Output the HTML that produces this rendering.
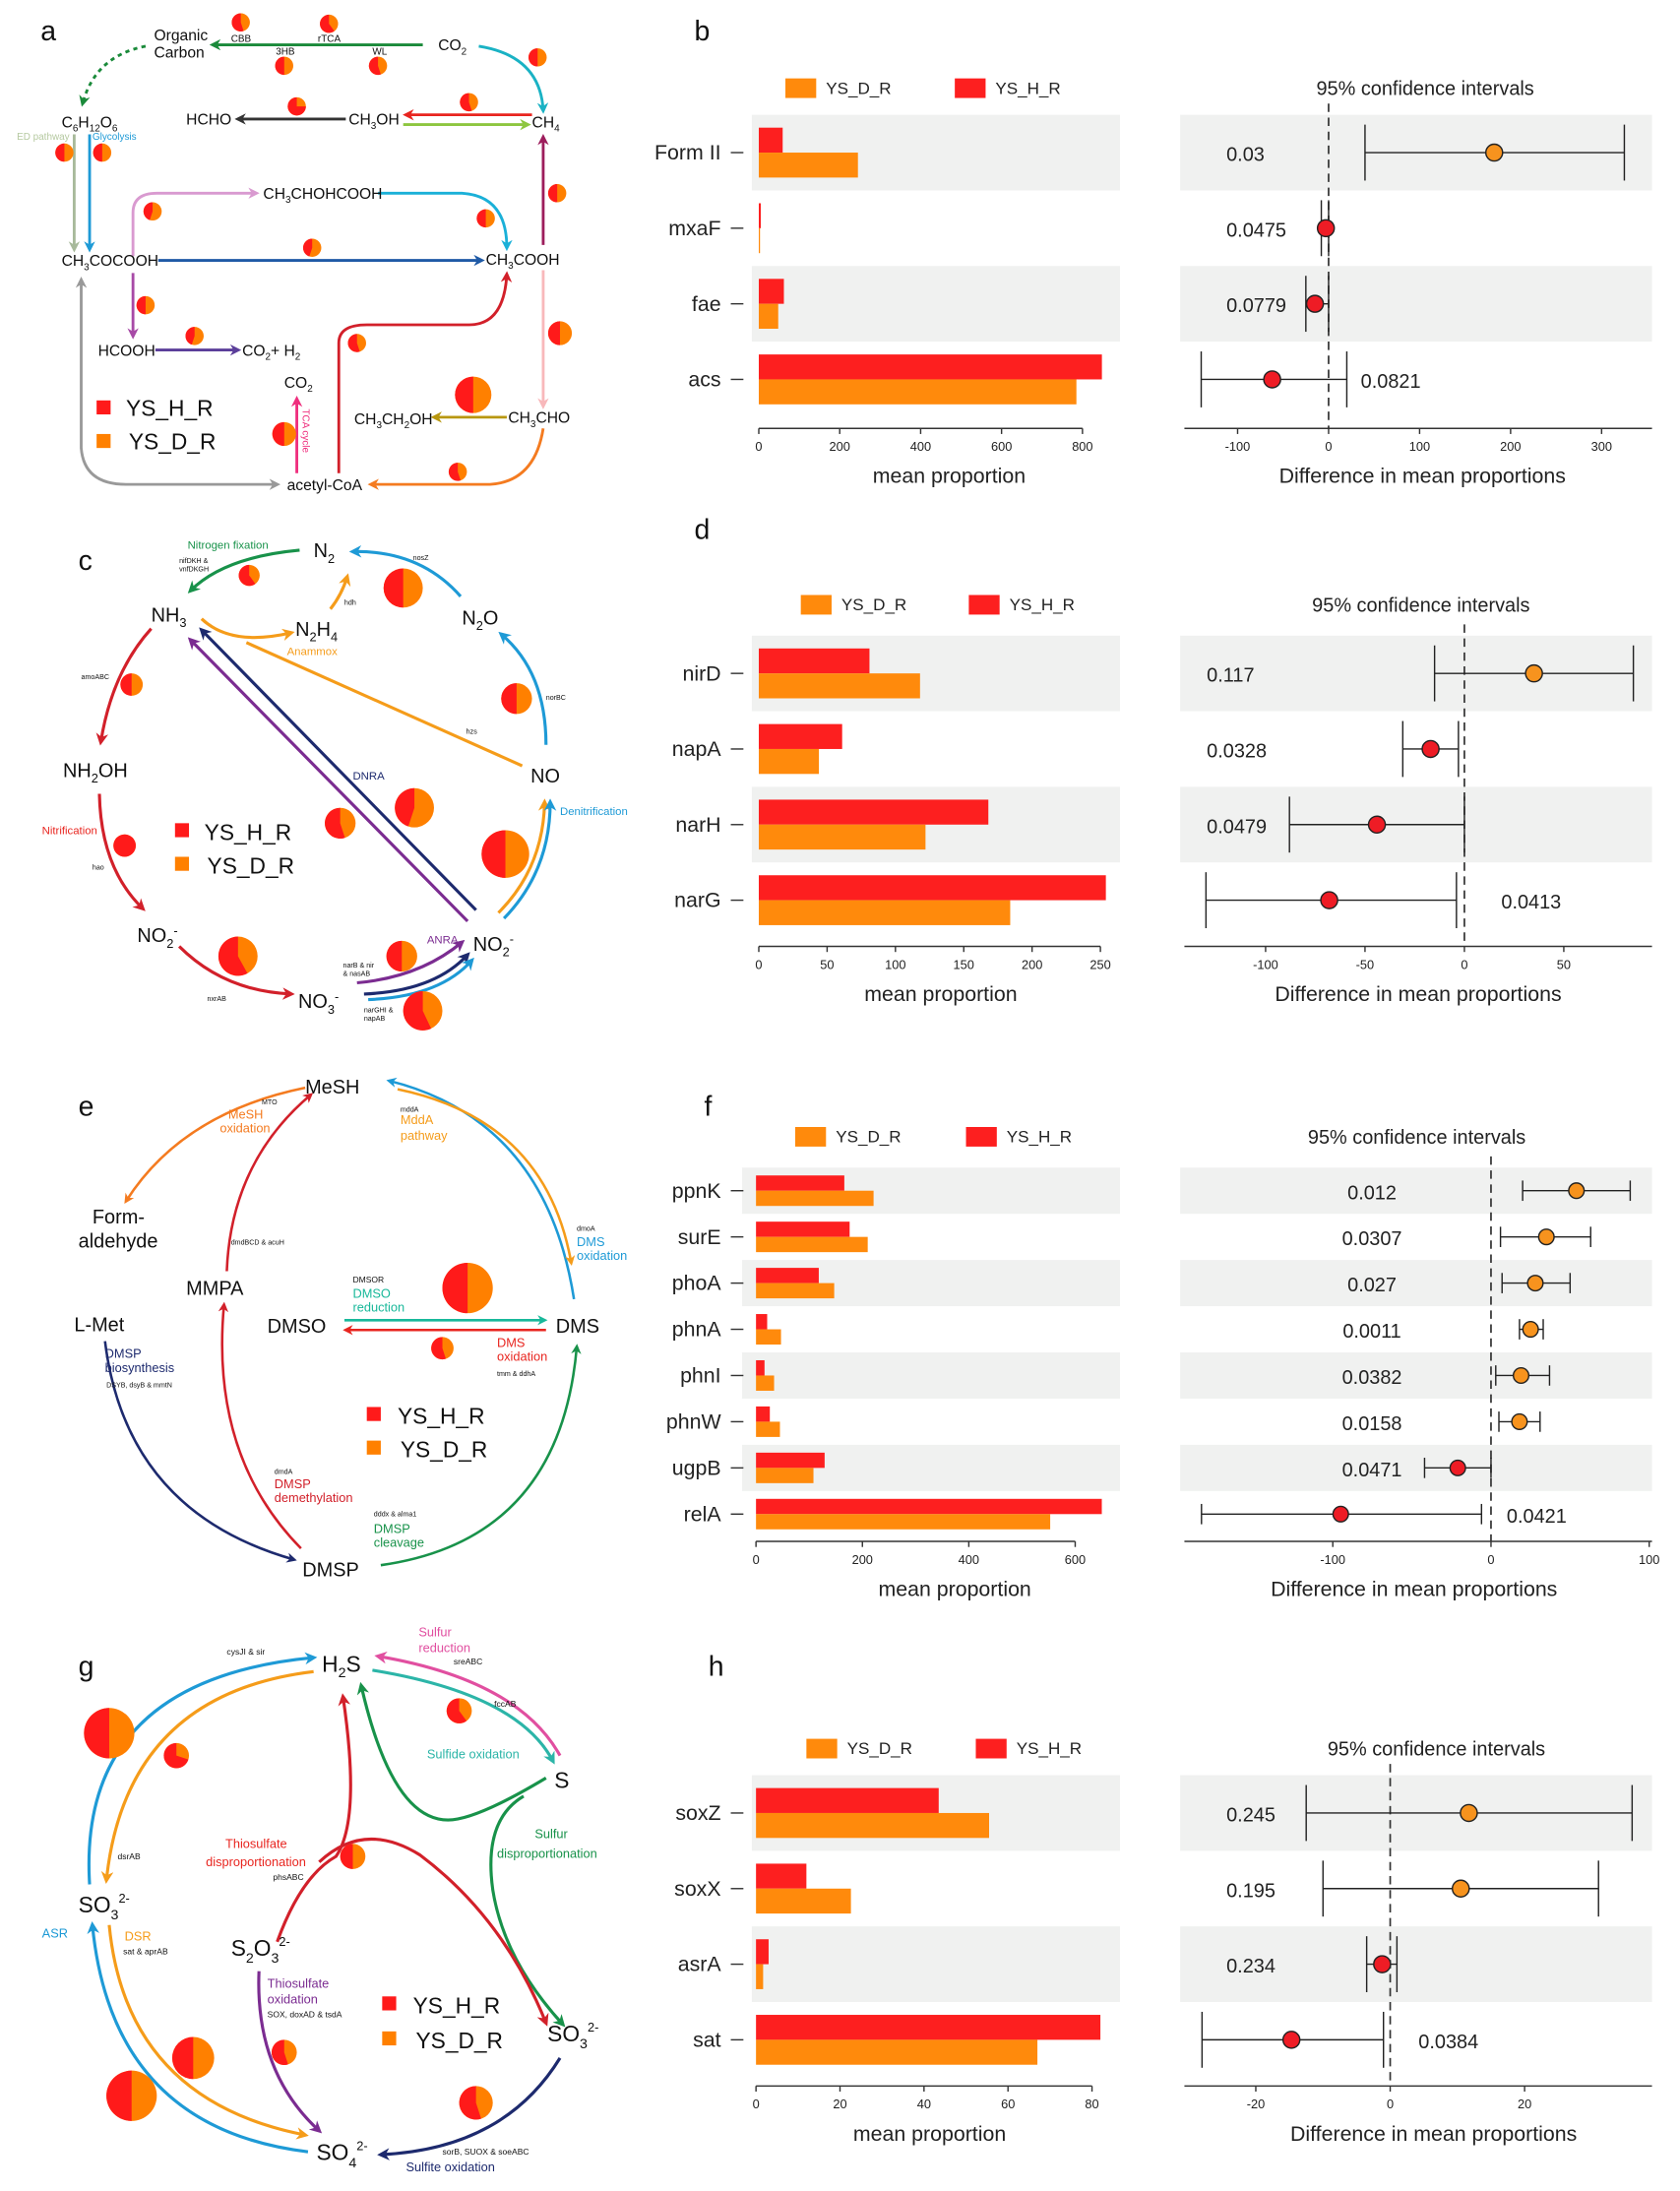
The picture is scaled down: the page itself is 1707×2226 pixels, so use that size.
<!DOCTYPE html>
<html><head><meta charset="utf-8"><style>
html,body{margin:0;padding:0;background:#fff;}
svg{display:block;font-family:"Liberation Sans",sans-serif;}
</style></head><body>
<svg id="fig" width="1707" height="2226" viewBox="0 0 1200 1565" preserveAspectRatio="none" xmlns="http://www.w3.org/2000/svg">
<defs id="defs"></defs>
<rect x="0" y="0" width="1200" height="1565" fill="#fff"/>

<!-- Panel labels -->
<g font-size="20" fill="#111">
<text x="29" y="29">a</text>
<text x="496" y="29">b</text>
<text x="56" y="407">c</text>
<text x="496" y="385">d</text>
<text x="56" y="797">e</text>
<text x="503" y="797">f</text>
<text x="56" y="1197">g</text>
<text x="506" y="1197">h</text>
</g>

<!-- PANEL A -->
<g id="panelA" fill="none" stroke-width="2">
<path d="M302,32 L152,32" stroke="#1a8a3a" marker-end="url(#m-1a8a3a)"/>
<path d="M104,33 Q68,40 59,74" stroke="#1a8a3a" stroke-dasharray="3 3" marker-end="url(#m-1a8a3a)"/>
<path d="M342,33 Q386,40 388,79" stroke="#1ab2c4" marker-end="url(#m-1ab2c4)"/>
<path d="M247,85 L170,85" stroke="#333333" marker-end="url(#m-333333)"/>
<path d="M380,82 L290,82" stroke="#e8251f" marker-end="url(#m-e8251f)"/>
<path d="M288,89 L377,89" stroke="#8dc63f" marker-end="url(#m-8dc63f)"/>
<path d="M53,96 L53,178" stroke="#a7b99a" marker-end="url(#m-a7b99a)"/>
<path d="M64,96 L64,178" stroke="#1e9ad6" marker-end="url(#m-1e9ad6)"/>
<path d="M113,186 L344,186" stroke="#1f5aa6" marker-end="url(#m-1f5aa6)"/>
<path d="M95,183 L95,152 Q95,138 112,138 L183,138" stroke="#d99ad0" marker-end="url(#m-d99ad0)"/>
<path d="M270,138 L330,138 Q362,140 362,177" stroke="#1ab0d8" marker-end="url(#m-1ab0d8)"/>
<path d="M388,175 L388,98" stroke="#9d1d5c" marker-end="url(#m-9d1d5c)"/>
<path d="M95,195 L95,240" stroke="#a74aa6" marker-end="url(#m-a74aa6)"/>
<path d="M111,250 L170,250" stroke="#5b3e9a" marker-end="url(#m-5b3e9a)"/>
<path d="M58,200 L58,320 Q60,346 90,346 L198,346" stroke="#999999" marker-start="url(#m-999999)" marker-end="url(#m-999999)"/>
<path d="M212,338 L212,285" stroke="#ef2f7e" marker-end="url(#m-ef2f7e)"/>
<path d="M242,338 L242,245 Q242,232 262,232 L335,232 Q360,232 362,196" stroke="#d2202a" marker-end="url(#m-d2202a)"/>
<path d="M388,193 L388,290" stroke="#f8b8bb" marker-end="url(#m-f8b8bb)"/>
<path d="M362,298 L310,298" stroke="#b8970f" marker-end="url(#m-b8970f)"/>
<path d="M388,306 Q382,344 350,346 L265,346" stroke="#f47b20" marker-end="url(#m-f47b20)"/>
</g>
<g font-size="11" fill="#111">
<text x="110" y="29">Organic</text>
<text x="110" y="41">Carbon</text>
<text x="313" y="36">CO<tspan font-size="7" dy="3">2</tspan></text>
<text x="133" y="89">HCHO</text>
<text x="249" y="89">CH<tspan font-size="7" dy="3">3</tspan><tspan dy="-3">OH</tspan></text>
<text x="380" y="91">CH<tspan font-size="7" dy="3">4</tspan></text>
<text x="44" y="91">C<tspan font-size="7" dy="3">6</tspan><tspan dy="-3">H</tspan><tspan font-size="7" dy="3">12</tspan><tspan dy="-3">O</tspan><tspan font-size="7" dy="3">6</tspan></text>
<text x="44" y="190">CH<tspan font-size="7" dy="3">3</tspan><tspan dy="-3">COCOOH</tspan></text>
<text x="188" y="142">CH<tspan font-size="7" dy="3">3</tspan><tspan dy="-3">CHOHCOOH</tspan></text>
<text x="347" y="189">CH<tspan font-size="7" dy="3">3</tspan><tspan dy="-3">COOH</tspan></text>
<text x="70" y="254">HCOOH</text>
<text x="173" y="254">CO<tspan font-size="7" dy="3">2</tspan><tspan dy="-3">+ H</tspan><tspan font-size="7" dy="3">2</tspan></text>
<text x="203" y="277">CO<tspan font-size="7" dy="3">2</tspan></text>
<text x="253" y="303">CH<tspan font-size="7" dy="3">3</tspan><tspan dy="-3">CH</tspan><tspan font-size="7" dy="3">2</tspan><tspan dy="-3">OH</tspan></text>
<text x="363" y="302">CH<tspan font-size="7" dy="3">3</tspan><tspan dy="-3">CHO</tspan></text>
<text x="205" y="350">acetyl-CoA</text>
<g font-size="7">
<text x="165" y="30">CBB</text>
<text x="227" y="30">rTCA</text>
<text x="197" y="39">3HB</text>
<text x="266" y="39">WL</text>
<text x="12" y="100" fill="#b5c9a0">ED pathway</text>
<text x="66" y="100" fill="#1e9ad6">Glycolysis</text>
<text x="216" y="292" fill="#ef2f7e" transform="rotate(90 216 292)">TCA cycle</text>
</g>
</g>
<g>
<rect x="69" y="286" width="10" height="10" fill="#ff1a1a"/>
<text x="90" y="297" font-size="16" fill="#111">YS_H_R</text>
<rect x="69" y="310" width="10" height="10" fill="#ff8000"/>
<text x="92" y="321" font-size="16" fill="#111">YS_D_R</text>
</g>

<!-- PANEL C -->
<g fill="none" stroke-width="2.2">
<path d="M214,393 Q160,398 136,422" stroke="#18924a" marker-end="url(#m-18924a)"/>
<path d="M329,426 Q300,393 252,394" stroke="#1e9ad6" marker-end="url(#m-1e9ad6)"/>
<path d="M236,435 Q244,425 248,412" stroke="#f59c1a" marker-end="url(#m-f59c1a)"/>
<path d="M144,442 Q165,462 208,452" stroke="#f59c1a" marker-end="url(#m-f59c1a)"/>
<path d="M176,459 L373,547" stroke="#f59c1a"/>
<path d="M390,532 Q390,480 358,453" stroke="#1e9ad6" marker-end="url(#m-1e9ad6)"/>
<path d="M340,650 L144,450" stroke="#1d2a6e" marker-end="url(#m-1d2a6e)"/>
<path d="M334,658 L136,457" stroke="#7b2c91" marker-end="url(#m-7b2c91)"/>
<path d="M108,449 Q80,480 72,530" stroke="#d2202a" marker-end="url(#m-d2202a)"/>
<path d="M71,567 Q72,620 102,649" stroke="#d2202a" marker-end="url(#m-d2202a)"/>
<path d="M128,676 Q160,708 208,710" stroke="#d2202a" marker-end="url(#m-d2202a)"/>
<path d="M255,702 Q300,698 330,673" stroke="#7b2c91" marker-end="url(#m-7b2c91)"/>
<path d="M260,710 Q310,708 334,682" stroke="#1d2a6e" marker-end="url(#m-1d2a6e)"/>
<path d="M263,714 Q314,712 337,686" stroke="#1e9ad6" marker-end="url(#m-1e9ad6)"/>
<path d="M356,652 Q388,620 389,573" stroke="#f59c1a" marker-end="url(#m-f59c1a)"/>
<path d="M360,656 Q393,622 393,573" stroke="#1e9ad6" marker-end="url(#m-1e9ad6)"/>
</g>
<g font-size="14" fill="#111">
<text x="224" y="398">N<tspan font-size="9" dy="4">2</tspan></text>
<text x="108" y="444">NH<tspan font-size="9" dy="4">3</tspan></text>
<text x="211" y="454">N<tspan font-size="9" dy="4">2</tspan><tspan dy="-4">H</tspan><tspan font-size="9" dy="4">4</tspan></text>
<text x="330" y="446">N<tspan font-size="9" dy="4">2</tspan><tspan dy="-4">O</tspan></text>
<text x="379" y="559">NO</text>
<text x="45" y="555">NH<tspan font-size="9" dy="4">2</tspan><tspan dy="-4">OH</tspan></text>
<text x="98" y="673">NO<tspan font-size="9" dy="4">2</tspan><tspan font-size="9" dy="-9">-</tspan></text>
<text x="213" y="720">NO<tspan font-size="9" dy="4">3</tspan><tspan font-size="9" dy="-9">-</tspan></text>
<text x="338" y="679">NO<tspan font-size="9" dy="4">2</tspan><tspan font-size="9" dy="-9">-</tspan></text>
<g font-size="8">
<text x="134" y="392" fill="#18924a">Nitrogen fixation</text>
<text x="128" y="402" font-size="5">nifDKH &amp;</text><text x="128" y="408" font-size="5">vnfDKGH</text>
<text x="295" y="400" font-size="5">nosZ</text>
<text x="246" y="432" font-size="5">hdh</text>
<text x="205" y="468" fill="#f59c1a">Anammox</text>
<text x="333" y="524" font-size="5">hzs</text>
<text x="390" y="500" font-size="5">norBC</text>
<text x="252" y="557" fill="#1d2a6e">DNRA</text>
<text x="305" y="674" fill="#7b2c91">ANRA</text>
<text x="58" y="485" font-size="5">amoABC</text>
<text x="30" y="596" fill="#e8251f">Nitrification</text>
<text x="66" y="621" font-size="5">hao</text>
<text x="148" y="715" font-size="5">nxrAB</text>
<text x="245" y="691" font-size="5">narB &amp; nir</text><text x="245" y="697" font-size="5">&amp; nasAB</text>
<text x="260" y="723" font-size="5">narGHI &amp;</text><text x="260" y="729" font-size="5">napAB</text>
<text x="400" y="582" fill="#1e9ad6">Denitrification</text>
</g>
</g>
<g>
<rect x="125" y="588" width="10" height="10" fill="#ff1a1a"/>
<text x="146" y="600" font-size="16" fill="#111">YS_H_R</text>
<rect x="125" y="612" width="10" height="10" fill="#ff8000"/>
<text x="148" y="624" font-size="16" fill="#111">YS_D_R</text>
</g>

<!-- PANEL E -->
<g fill="none" stroke-width="1.8">
<path d="M218,777 Q130,795 90,858" stroke="#f47b20" marker-end="url(#m-f47b20)"/>
<path d="M162,908 Q165,830 222,782" stroke="#d2202a" marker-end="url(#m-d2202a)"/>
<path d="M410,928 Q390,800 278,772" stroke="#1e9ad6" marker-end="url(#m-1e9ad6)"/>
<path d="M284,778 Q390,800 408,902" stroke="#f59c1a" marker-end="url(#m-f59c1a)"/>
<path d="M246,943 L389,943" stroke="#18b89a" marker-end="url(#m-18b89a)"/>
<path d="M390,950 L247,950" stroke="#e8251f" marker-end="url(#m-e8251f)"/>
<path d="M75,958 Q90,1080 210,1114" stroke="#1d2a6e" marker-end="url(#m-1d2a6e)"/>
<path d="M215,1106 Q150,1040 160,932" stroke="#d2202a" marker-end="url(#m-d2202a)"/>
<path d="M272,1118 Q400,1100 412,962" stroke="#18924a" marker-end="url(#m-18924a)"/>
</g>
<g font-size="14" fill="#111">
<text x="218" y="781">MeSH</text>
<text x="66" y="874">Form-</text>
<text x="56" y="891">aldehyde</text>
<text x="133" y="925">MMPA</text>
<text x="53" y="951">L-Met</text>
<text x="191" y="952">DMSO</text>
<text x="397" y="952">DMS</text>
<text x="216" y="1126">DMSP</text>
<g font-size="9">
<text x="187" y="789" font-size="5">MTO</text>
<text x="163" y="799" fill="#f47b20">MeSH</text><text x="157" y="809" fill="#f47b20">oxidation</text>
<text x="286" y="794" font-size="5">mddA</text>
<text x="286" y="803" fill="#f59c1a">MddA</text><text x="286" y="814" fill="#f59c1a">pathway</text>
<text x="165" y="889" font-size="5">dmdBCD &amp; acuH</text>
<text x="412" y="879" font-size="5">dmoA</text>
<text x="412" y="890" fill="#1e9ad6">DMS</text><text x="412" y="900" fill="#1e9ad6">oxidation</text>
<text x="252" y="916" font-size="6">DMSOR</text>
<text x="252" y="927" fill="#18b89a">DMSO</text><text x="252" y="937" fill="#18b89a">reduction</text>
<text x="355" y="962" fill="#e8251f">DMS</text><text x="355" y="972" fill="#e8251f">oxidation</text>
<text x="355" y="983" font-size="5">tmm &amp; ddhA</text>
<text x="75" y="970" fill="#1d2a6e">DMSP</text><text x="75" y="980" fill="#1d2a6e">biosynthesis</text>
<text x="76" y="991" font-size="5">DSYB, dsyB &amp; mmtN</text>
<text x="196" y="1053" font-size="5">dmdA</text>
<text x="196" y="1063" fill="#d2202a">DMSP</text><text x="196" y="1073" fill="#d2202a">demethylation</text>
<text x="267" y="1083" font-size="5">dddx &amp; alma1</text>
<text x="267" y="1095" fill="#18924a">DMSP</text><text x="267" y="1105" fill="#18924a">cleavage</text>
</g>
</g>
<g>
<rect x="262" y="1005" width="10" height="10" fill="#ff1a1a"/>
<text x="284" y="1017" font-size="16" fill="#111">YS_H_R</text>
<rect x="262" y="1029" width="10" height="10" fill="#ff8000"/>
<text x="286" y="1041" font-size="16" fill="#111">YS_D_R</text>
</g>

<!-- PANEL G -->
<g fill="none" stroke-width="2.2">
<path d="M64,1346 Q55,1200 224,1184" stroke="#1e9ad6" marker-end="url(#m-1e9ad6)"/>
<path d="M224,1194 Q90,1210 76,1343" stroke="#f59c1a" marker-end="url(#m-f59c1a)"/>
<path d="M400,1254 Q370,1200 270,1183" stroke="#e14fa0" marker-end="url(#m-e14fa0)"/>
<path d="M266,1193 Q370,1210 395,1258" stroke="#2cb5a8" marker-end="url(#m-2cb5a8)"/>
<path d="M390,1270 Q340,1300 320,1300 Q280,1300 258,1204" stroke="#18924a" marker-end="url(#m-18924a)"/>
<path d="M374,1283 Q345,1300 352,1350 Q360,1400 402,1446" stroke="#18924a" marker-end="url(#m-18924a)"/>
<path d="M198,1387 Q215,1340 240,1326 Q258,1300 245,1212" stroke="#d2202a" marker-end="url(#m-d2202a)"/>
<path d="M228,1330 Q260,1300 300,1325 Q360,1370 390,1445" stroke="#d2202a" marker-end="url(#m-d2202a)"/>
<path d="M185,1408 Q182,1480 228,1522" stroke="#7b2c91" marker-end="url(#m-7b2c91)"/>
<path d="M220,1537 Q80,1520 66,1375" stroke="#1e9ad6" marker-end="url(#m-1e9ad6)"/>
<path d="M78,1375 Q90,1500 218,1525" stroke="#f59c1a" marker-end="url(#m-f59c1a)"/>
<path d="M400,1470 Q360,1535 272,1539" stroke="#1d2a6e" marker-end="url(#m-1d2a6e)"/>
</g>
<g font-size="16" fill="#111">
<text x="230" y="1194">H<tspan font-size="10" dy="4">2</tspan><tspan dy="-4">S</tspan></text>
<text x="396" y="1277">S</text>
<text x="56" y="1366">SO<tspan font-size="10" dy="5">3</tspan><tspan font-size="9" dy="-12">2-</tspan></text>
<text x="165" y="1397">S<tspan font-size="10" dy="5">2</tspan><tspan dy="-5">O</tspan><tspan font-size="10" dy="5">3</tspan><tspan font-size="9" dy="-12">2-</tspan></text>
<text x="391" y="1458">SO<tspan font-size="10" dy="5">3</tspan><tspan font-size="9" dy="-12">2-</tspan></text>
<text x="226" y="1543">SO<tspan font-size="10" dy="5">4</tspan><tspan font-size="9" dy="-12">2-</tspan></text>
<g font-size="9">
<text x="162" y="1182" font-size="6">cysJI &amp; sir</text>
<text x="299" y="1169" fill="#e14fa0">Sulfur</text><text x="299" y="1180" fill="#e14fa0">reduction</text>
<text x="324" y="1189" font-size="6">sreABC</text>
<text x="353" y="1219" font-size="6">fccAB</text>
<text x="305" y="1256" fill="#2cb5a8">Sulfide oxidation</text>
<text x="382" y="1313" fill="#18924a">Sulfur</text><text x="355" y="1327" fill="#18924a">disproportionation</text>
<text x="161" y="1320" fill="#e8251f">Thiosulfate</text><text x="147" y="1333" fill="#e8251f">disproportionation</text>
<text x="195" y="1343" font-size="6">phsABC</text>
<text x="84" y="1328" font-size="6">dsrAB</text>
<text x="30" y="1384" fill="#1e9ad6">ASR</text>
<text x="89" y="1386" fill="#f59c1a">DSR</text>
<text x="88" y="1396" font-size="6">sat &amp; aprAB</text>
<text x="191" y="1420" fill="#7b2c91">Thiosulfate</text><text x="191" y="1431" fill="#7b2c91">oxidation</text>
<text x="191" y="1441" font-size="6">SOX, doxAD &amp; tsdA</text>
<text x="316" y="1539" font-size="6">sorB, SUOX &amp; soeABC</text>
<text x="290" y="1551" fill="#1d2a6e">Sulfite oxidation</text>
</g>
</g>
<g>
<rect x="273" y="1426" width="10" height="10" fill="#ff1a1a"/>
<text x="295" y="1438" font-size="16" fill="#111">YS_H_R</text>
<rect x="273" y="1451" width="10" height="10" fill="#ff8000"/>
<text x="297" y="1463" font-size="16" fill="#111">YS_D_R</text>
</g>

<g id="pies"></g>
<g id="charts"></g>
</svg>
<script>
// ---------- Chart data (panel b) ----------
const bCats = ['Form II', 'mxaF', 'fae', 'acs'];
const bRed = [59, 5, 62, 848];
const bOrange = [245, 3, 48, 785];
const bDiff = [182, -3, -15, -62];
const bLo = [40, -8, -25, -140];
const bHi = [325, 0, 0, 20];
const bP = ['0.03', '0.0475', '0.0779', '0.0821'];
const bBarTicks = [0, 200, 400, 600, 800];
const bCiTicks = [-100, 0, 100, 200, 300];
// ---------- panel d ----------
const dCats = ['nirD', 'napA', 'narH', 'narG'];
const dRed = [81, 61, 168, 254];
const dOrange = [118, 44, 122, 184];
const dDiff = [35, -17, -44, -68];
const dLo = [-15, -31, -88, -130];
const dHi = [85, -3, 0, -4];
const dP = ['0.117', '0.0328', '0.0479', '0.0413'];
const dBarTicks = [0, 50, 100, 150, 200, 250];
const dCiTicks = [-100, -50, 0, 50];
// ---------- panel f ----------
const fCats = ['ppnK', 'surE', 'phoA', 'phnA', 'phnI', 'phnW', 'ugpB', 'relA'];
const fRed = [166, 176, 118, 21, 16, 26, 129, 650];
const fOrange = [221, 210, 147, 47, 34, 45, 108, 553];
const fDiff = [54, 35, 28, 25, 19, 18, -21, -95];
const fLo = [20, 6, 7, 18, 3, 5, -42, -183];
const fHi = [88, 63, 50, 33, 37, 31, 0, -6];
const fP = ['0.012', '0.0307', '0.027', '0.0011', '0.0382', '0.0158', '0.0471', '0.0421'];
const fBarTicks = [0, 200, 400, 600];
const fCiTicks = [-100, 0, 100];
// ---------- panel h ----------
const hCats = ['soxZ', 'soxX', 'asrA', 'sat'];
const hRed = [43.5, 12, 3, 82];
const hOrange = [55.5, 22.6, 1.7, 67];
const hDiff = [11.7, 10.5, -1.2, -14.7];
const hLo = [-12.5, -10, -3.5, -28];
const hHi = [36, 31, 1, -1];
const hP = ['0.245', '0.195', '0.234', '0.0384'];
const hBarTicks = [0, 20, 40, 60, 80];
const hCiTicks = [-20, 0, 20];

const NS = 'http://www.w3.org/2000/svg';
function mk(tag, attrs, parent) {
  const e = document.createElementNS(NS, tag);
  for (const k in attrs) e.setAttribute(k, attrs[k]);
  if (parent) parent.appendChild(e);
  return e;
}

const markerColors = ['1a8a3a','1ab2c4','333333','e8251f','8dc63f','a7b99a','1e9ad6','1f5aa6','d99ad0','1ab0d8','9d1d5c','a74aa6','5b3e9a','999999','ef2f7e','d2202a','f8b8bb','b8970f','f47b20','18924a','f59c1a','1d2a6e','7b2c91','18b89a','e14fa0','2cb5a8'];
const defs = document.getElementById('defs');
markerColors.forEach(c => {
  const m = mk('marker', {id: 'm-' + c, viewBox: '0 0 10 10', refX: '7', refY: '5', markerWidth: '4', markerHeight: '4', orient: 'auto-start-reverse'}, defs);
  mk('path', {d: 'M0,0 L10,5 L0,10 L3,5 Z', fill: '#' + c}, m);
});

const pieList = [
  [172,16,6.5,0.55],[235,17,6.5,0.6],[203,47,6.5,0.5],[270,47,6.5,0.55],[384,41,6.5,0.5],[212,76,6.5,0.75],[335,73,6.5,0.55],
  [46,109,6.5,0.5],[73,109,6.5,0.5],[109,151,6.5,0.45],[347,156,6.5,0.5],[223,177,6.5,0.45],[398,138,6.5,0.5],[104,218,6.5,0.5],
  [139,240,6.5,0.45],[255,245,6.5,0.55],[400,238,8.5,0.5],[338,282,13,0.5],[203,310,8.5,0.5],[327,337,6.5,0.55],
  [178,411,7.5,0.6],[288,420,14,0.5],[94,489,8,0.5],[369,499,11,0.5],[89,604,8,1],[243,588,11,0.55],[296,577,14,0.45],
  [361,610,17,0.5],[170,683,14,0.58],[287,683,11,0.5],[302,722,14,0.57],
  [334,920,18,0.5],[316,963,8,0.55],
  [78,1238,18,0.5],[126,1254,9,0.7],[328,1222,9,0.6],[252,1326,9,0.5],[138,1470,15,0.5],[203,1466,9,0.55],[94,1497,18,0.5],[340,1502,12,0.55]
];
const pies = document.getElementById('pies');
pieList.forEach((p, i) => {
  const [cx, cy, r, f] = p;
  const g = mk('g', {}, pies);
  
  
  mk('circle', {cx: cx, cy: cy, r: r, fill: '#ff8000'}, g);
  if (f >= 0.999) { mk('circle', {cx: cx, cy: cy, r: r, fill: '#ff1a1a'}, g); return; }
  const a = -Math.PI / 2 - f * 2 * Math.PI;
  const x2 = cx + r * Math.cos(a), y2 = cy + r * Math.sin(a);
  const large = f > 0.5 ? 1 : 0;
  mk('path', {d: `M${cx},${cy} L${cx},${cy - r} A${r},${r} 0 ${large} 0 ${x2},${y2} Z`, fill: '#ff1a1a'}, g);
});

const charts = document.getElementById('charts');
const RED = '#fd1f1f', ORG = '#ff8a0c';
function drawPanel(P) {
  const root = mk('g', {}, charts);
  
  
  const n = P.cats.length;
  const xs = v => P.x0 + v * P.k;
  const cs = v => P.cx0 + v * P.ck;
  const rowY = i => P.top + i * P.rowH;
  const lg = mk('g', {}, root);
  
  
  mk('rect', {x: P.legO, y: P.legY - 7, width: 22, height: 14, fill: ORG}, lg);
  const t1 = mk('text', {x: P.legO + 29, y: P.legY + 4, 'font-size': 12, fill: '#222'}, lg); t1.textContent = 'YS_D_R';
  mk('rect', {x: P.legR, y: P.legY - 7, width: 22, height: 14, fill: RED}, lg);
  const t2 = mk('text', {x: P.legR + 29, y: P.legY + 4, 'font-size': 12, fill: '#222'}, lg); t2.textContent = 'YS_H_R';
  for (let i = 0; i < n; i += 2) {
    const b1 = mk('rect', {x: P.bandL, y: rowY(i), width: 800 - P.bandL, height: P.rowH, fill: '#f0f1f0'}, root);
    
    
    const b2 = mk('rect', {x: 843, y: rowY(i), width: 337, height: P.rowH, fill: '#f0f1f0'}, root);
    
    
  }
  const pad = P.rowH * 0.17, bh = P.rowH * 0.33;
  for (let i = 0; i < n; i++) {
    const y = rowY(i);
    const lab = mk('text', {x: 515, y: y + P.rowH / 2 + 5, 'font-size': 15, 'text-anchor': 'end', fill: '#222'}, root);
    lab.textContent = P.cats[i];
    
    
    mk('line', {x1: 522, x2: 531, y1: y + P.rowH / 2, y2: y + P.rowH / 2, stroke: '#333', 'stroke-width': 1}, root);
    const r = mk('rect', {x: xs(0), y: y + pad, width: Math.max(0.5, xs(P.red[i]) - xs(0)), height: bh, fill: RED}, root);
    
    
    const o = mk('rect', {x: xs(0), y: y + pad + bh, width: Math.max(0.5, xs(P.org[i]) - xs(0)), height: bh, fill: ORG}, root);
    
    
  }
  const bt = P.barTicks;
  mk('line', {x1: xs(bt[0]), x2: xs(bt[bt.length - 1]), y1: P.axisY, y2: P.axisY, stroke: '#333', 'stroke-width': 1}, root);
  bt.forEach(v => {
    mk('line', {x1: xs(v), x2: xs(v), y1: P.axisY, y2: P.axisY + 4, stroke: '#333', 'stroke-width': 1}, root);
    const tl = mk('text', {x: xs(v), y: P.axisY + 16, 'font-size': 9, 'text-anchor': 'middle', fill: '#222'}, root);
    tl.textContent = v;
    
    
  });
  const xl = mk('text', {x: P.xlabX, y: P.axisY + 39, 'font-size': 15, 'text-anchor': 'middle', fill: '#222'}, root);
  xl.textContent = 'mean proportion';
  
  
  const ti = mk('text', {x: P.titleX, y: P.legY + 5, 'font-size': 14, 'text-anchor': 'middle', fill: '#222'}, root);
  ti.textContent = '95% confidence intervals';
  
  
  const dl = mk('line', {x1: cs(0), x2: cs(0), y1: P.top - 8, y2: P.axisY, stroke: '#333', 'stroke-width': 1.2, 'stroke-dasharray': '6 4'}, root);
  
  
  const cap = P.rowH * P.capF;
  for (let i = 0; i < n; i++) {
    const cy = rowY(i) + P.rowH / 2;
    const eb = mk('g', {}, root);
    
    
    mk('line', {x1: cs(P.lo[i]), x2: cs(P.hi[i]), y1: cy, y2: cy, stroke: '#222', 'stroke-width': 1}, eb);
    mk('line', {x1: cs(P.lo[i]), x2: cs(P.lo[i]), y1: cy - cap, y2: cy + cap, stroke: '#222', 'stroke-width': 1}, eb);
    mk('line', {x1: cs(P.hi[i]), x2: cs(P.hi[i]), y1: cy - cap, y2: cy + cap, stroke: '#222', 'stroke-width': 1}, eb);
    const pt = mk('circle', {cx: cs(P.diff[i]), cy: cy, r: P.ptR, fill: P.diff[i] >= 0 ? '#f7931e' : '#ee1c25', stroke: '#222', 'stroke-width': 1}, root);
    
    
    let px = P.pX, anchor = P.pAnchor;
    if (cs(P.lo[i]) < P.pX + 10) { px = cs(P.hi[i]) + P.pOff; anchor = 'start'; }
    const pl = mk('text', {x: px, y: cy + 6, 'font-size': 14, 'text-anchor': anchor, fill: '#222'}, root);
    pl.textContent = P.p[i];
    
    
  }
  const ct = P.ciTicks;
  mk('line', {x1: 846, x2: 1180, y1: P.axisY, y2: P.axisY, stroke: '#333', 'stroke-width': 1}, root);
  ct.forEach(v => {
    mk('line', {x1: cs(v), x2: cs(v), y1: P.axisY, y2: P.axisY + 4, stroke: '#333', 'stroke-width': 1}, root);
    const tl = mk('text', {x: cs(v), y: P.axisY + 16, 'font-size': 9, 'text-anchor': 'middle', fill: '#222'}, root);
    tl.textContent = v;
    
    
  });
  const cxl = mk('text', {x: P.titleX - 2, y: P.axisY + 39, 'font-size': 15, 'text-anchor': 'middle', fill: '#222'}, root);
  cxl.textContent = 'Difference in mean proportions';
  
  
}

drawPanel({id: 'b', cats: bCats, red: bRed, org: bOrange, diff: bDiff, lo: bLo, hi: bHi, p: bP, barTicks: bBarTicks, ciTicks: bCiTicks,
  top: 82, rowH: 54, x0: 542, k: 0.289, bandL: 537, axisY: 306, xlabX: 678, cx0: 949, ck: 0.65, legY: 63, legO: 561, legR: 682, titleX: 1018,
  pX: 876, pAnchor: 'start', pOff: 10, capF: 0.37, ptR: 6});
drawPanel({id: 'd', cats: dCats, red: dRed, org: dOrange, diff: dDiff, lo: dLo, hi: dHi, p: dP, barTicks: dBarTicks, ciTicks: dCiTicks,
  top: 454, rowH: 54, x0: 542, k: 0.976, bandL: 537, axisY: 676, xlabX: 672, cx0: 1046, ck: 1.42, legY: 432, legO: 572, legR: 692, titleX: 1015,
  pX: 862, pAnchor: 'start', pOff: 32, capF: 0.37, ptR: 6});
drawPanel({id: 'f', cats: fCats, red: fRed, org: fOrange, diff: fDiff, lo: fLo, hi: fHi, p: fP, barTicks: fBarTicks, ciTicks: fCiTicks,
  top: 834, rowH: 33, x0: 540, k: 0.38, bandL: 530, axisY: 1101, xlabX: 682, cx0: 1065, ck: 1.13, legY: 812, legO: 568, legR: 690, titleX: 1012,
  pX: 980, pAnchor: 'middle', pOff: 18, capF: 0.22, ptR: 5.5});
drawPanel({id: 'h', cats: hCats, red: hRed, org: hOrange, diff: hDiff, lo: hLo, hi: hHi, p: hP, barTicks: hBarTicks, ciTicks: hCiTicks,
  top: 1268, rowH: 54, x0: 540, k: 3.0, bandL: 537, axisY: 1490, xlabX: 664, cx0: 993, ck: 4.8, legY: 1249, legO: 576, legR: 697, titleX: 1026,
  pX: 876, pAnchor: 'start', pOff: 25, capF: 0.37, ptR: 6});
</script>
</body></html>
